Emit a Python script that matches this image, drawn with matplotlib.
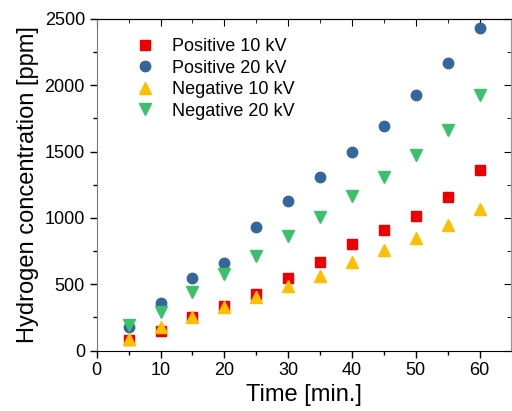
import matplotlib
matplotlib.use('Agg')
import matplotlib.pyplot as plt

plt.rcParams['font.family'] = ['Liberation Sans', 'DejaVu Sans']

# Time points [min.]
time = [5, 10, 15, 20, 25, 30, 35, 40, 45, 50, 55, 60]

# Hydrogen concentration [ppm]
pos_10kv = [80, 150, 250, 335, 430, 550, 665, 800, 910, 1015, 1160, 1360]
pos_20kv = [180, 360, 550, 660, 935, 1125, 1305, 1500, 1695, 1925, 2165, 2435]
neg_10kv = [90, 180, 255, 330, 405, 485, 560, 665, 755, 845, 945, 1065]
neg_20kv = [195, 290, 440, 580, 710, 860, 1005, 1165, 1310, 1475, 1665, 1925]

labels = ['Positive 10 kV', 'Positive 20 kV', 'Negative 10 kV', 'Negative 20 kV']

fig = plt.figure(figsize=(5.12, 4.11), dpi=100)
ax = fig.add_axes([0.189, 0.147, 0.810, 0.807])

ax.plot(time, pos_10kv, 's', color='#ee0000', markersize=6.5, label=labels[0])
ax.plot(time, pos_20kv, 'o', color='#336699', markersize=7.5, label=labels[1])
ax.plot(time, neg_10kv, '^', color='#ffbf00', markersize=8.5, label=labels[2])
ax.plot(time, neg_20kv, 'v', color='#3cc06e', markersize=8.5, label=labels[3])

ax.set_xlim(0, 65)
ax.set_ylim(0, 2500)
ax.set_xticks(range(0, 61, 10))
ax.set_xticks(range(5, 65, 10), minor=True)
ax.set_yticks(range(0, 2501, 500))
ax.set_yticks(range(250, 2500, 500), minor=True)
ax.tick_params(which='major', direction='out', length=5, width=1, labelsize=13, colors='black')
ax.tick_params(which='minor', direction='out', length=3, width=1)

ax.spines['left'].set_color('#777777')
ax.spines['right'].set_color('#999999')

# inward ticks on top and right side
top = ax.secondary_xaxis('top')
top.set_xticks(range(0, 61, 10))
top.set_xticks(range(5, 65, 10), minor=True)
top.tick_params(which='both', direction='in', labeltop=False)
top.tick_params(which='major', length=5)
top.tick_params(which='minor', length=3)
right = ax.secondary_yaxis('right')
right.set_yticks(range(0, 2501, 500))
right.set_yticks(range(250, 2500, 500), minor=True)
right.tick_params(which='both', direction='in', labelright=False)
right.tick_params(which='major', length=5)
right.tick_params(which='minor', length=3)
right.spines['right'].set_color('#999999')

ax.set_xlabel('Time [min.]', fontsize=17, labelpad=3)
ax.set_ylabel('Hydrogen concentration [ppm]', fontsize=17, labelpad=4)

ax.legend(loc='upper left', bbox_to_anchor=(0.078, 0.964), frameon=False,
          fontsize=13, handlelength=1.0, handletextpad=1.0, labelspacing=0.25,
          borderaxespad=0)

fig.savefig('out.png', dpi=100)
